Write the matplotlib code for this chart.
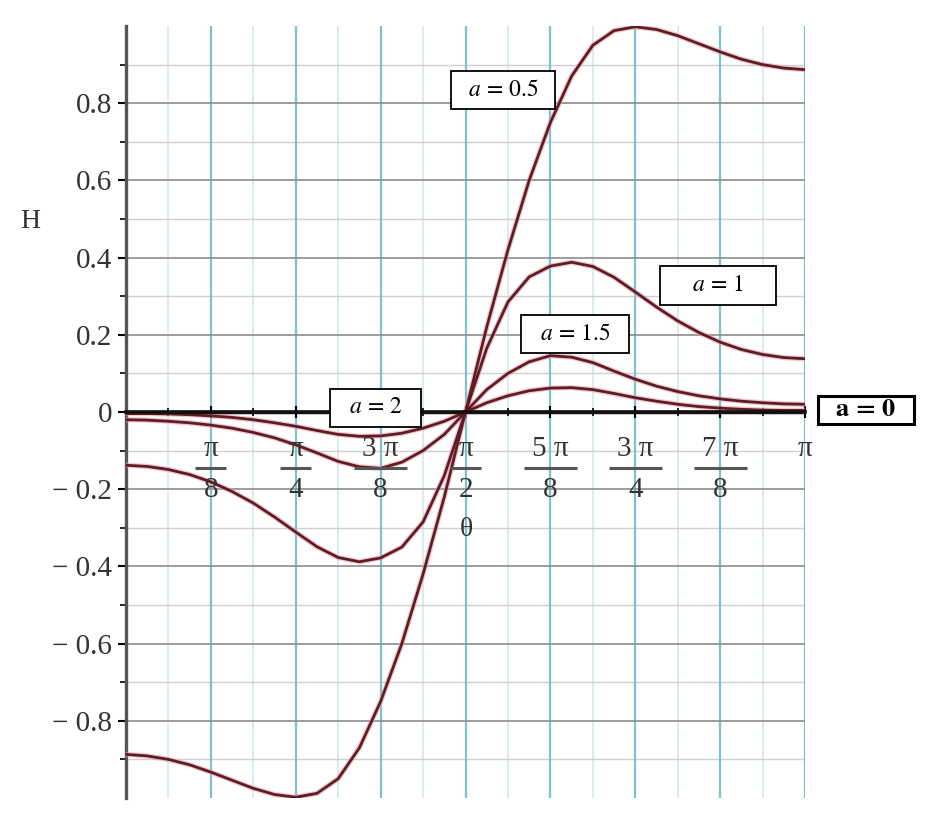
import numpy as np
import matplotlib.pyplot as plt
from matplotlib.patches import Rectangle
from matplotlib.transforms import ScaledTranslation

# theta samples, pi/32 apart from 0 to pi
theta = np.arange(33) * np.pi / 32

h_a05 = [-0.887, -0.891, -0.900, -0.914, -0.933, -0.954, -0.975, -0.991, -0.998,
         -0.988, -0.95, -0.87, -0.75, -0.60, -0.42, -0.22,
         0.0,
         0.22, 0.42, 0.60, 0.75, 0.87, 0.95, 0.988, 0.998,
         0.991, 0.975, 0.954, 0.933, 0.914, 0.900, 0.891, 0.887]
h_a1 = [-0.138, -0.141, -0.149, -0.162, -0.181, -0.206, -0.236, -0.272, -0.311,
        -0.349, -0.377, -0.388, -0.378, -0.35, -0.285, -0.165,
        0.0,
        0.165, 0.285, 0.35, 0.378, 0.388, 0.377, 0.349, 0.311,
        0.272, 0.236, 0.206, 0.181, 0.162, 0.149, 0.141, 0.138]
h_a15 = [-0.020, -0.021, -0.024, -0.028, -0.034, -0.042, -0.053, -0.067, -0.085,
         -0.106, -0.128, -0.142, -0.146, -0.130, -0.100, -0.058,
         0.0,
         0.058, 0.100, 0.130, 0.146, 0.142, 0.128, 0.106, 0.085,
         0.067, 0.053, 0.042, 0.034, 0.028, 0.024, 0.021, 0.020]
h_a2 = [-0.004, -0.004, -0.005, -0.007, -0.010, -0.014, -0.020, -0.028, -0.037,
        -0.048, -0.058, -0.063, -0.062, -0.055, -0.042, -0.024,
        0.0,
        0.024, 0.042, 0.055, 0.062, 0.063, 0.058, 0.048, 0.037,
        0.028, 0.020, 0.014, 0.010, 0.007, 0.005, 0.004, 0.004]
h_a0 = [0.0] * 33

x_ticks = [np.pi * k / 8 for k in range(1, 9)]
x_numer = ['\u03c0', '\u03c0', '3 \u03c0', '\u03c0', '5 \u03c0', '3 \u03c0', '7 \u03c0', '\u03c0']
x_denom = ['8', '4', '8', '2', '8', '4', '8', '']
y_ticks = [-0.8, -0.6, -0.4, -0.2, 0, 0.2, 0.4, 0.6, 0.8]
y_labels = ['\u2212 0.8', '\u2212 0.6', '\u2212 0.4', '\u2212 0.2', '0', '0.2', '0.4', '0.6', '0.8']

# curve labels: text, anchor (theta, H), box size in pixels
labels = [r'$a\,=\,0.5$', r'$a\,=\,1$', r'$a\,=\,1.5$', r'$a\,=\,2$', r'$\mathbf{a\,=\,0}$']
label_x = [1.744, 2.739, 2.077, 1.154, 3.424]
label_y = [0.834, 0.328, 0.202, 0.0104, 0.005]
box_w = [104, 116, 108, 91, 96]
box_h = [38, 39, 38, 38, 28]

plt.rcParams['font.family'] = ['Liberation Serif', 'DejaVu Serif']
plt.rcParams['mathtext.fontset'] = 'stix'

fig = plt.figure(figsize=(9.25, 8.18), dpi=100)
ax = fig.add_axes([126 / 925, 20 / 818, 679 / 925, 772 / 818])

line_col = '#5e1c26'
for h in [h_a05, h_a1, h_a15, h_a2]:
    ax.plot(theta, h, color='#e9a3ab', lw=3.8, alpha=0.6, zorder=3)
    ax.plot(theta, h, color=line_col, lw=2.0, zorder=4)
ax.plot(theta, h_a0, color='#3a0d12', lw=2.5, zorder=4)

ax.set_xlim(0, np.pi)
ax.set_ylim(-1.0, 1.0)

# grid
for k in range(1, 17):
    xv = np.pi * k / 16
    if k % 2 == 0:
        ax.axvline(xv, color='#7dc3cf', lw=1.6, zorder=1)
    else:
        ax.axvline(xv, color='#d3e9ee', lw=1.2, zorder=0.5)
for yv in np.arange(-0.9, 1.0, 0.1):
    if abs(round(yv * 10)) % 2 == 0:
        ax.axhline(yv, color='#8c8c8c', lw=1.2, zorder=1)
    else:
        ax.axhline(yv, color='#d0d0d0', lw=1.0, zorder=0.5)

ax.spines['top'].set_visible(False)
ax.spines['right'].set_visible(False)
ax.spines['bottom'].set_position(('data', 0))
ax.spines['bottom'].set_linewidth(2.6)
ax.spines['bottom'].set_color('#111111')
ax.spines['bottom'].set_zorder(5)
ax.spines['left'].set_linewidth(2.4)
ax.spines['left'].set_color('#555555')

ax.set_xticks(x_ticks)
ax.set_xticklabels([])
ax.set_xticks([np.pi * k / 16 for k in range(1, 16, 2)], minor=True)
ax.tick_params(axis='x', which='major', direction='inout', length=8, width=1.5)
ax.tick_params(axis='x', which='minor', direction='inout', length=6, width=1.2)

# fraction tick labels: numerator, bar, denominator
px = np.pi / 679
for xt, num, den in zip(x_ticks, x_numer, x_denom):
    ax.text(xt, -0.096, num, fontsize=21, color='#333333', ha='center', va='center', zorder=6)
    if den:
        half = (53 if len(num) > 1 else 31) / 2 * px
        ax.plot([xt - half, xt + half], [-0.144, -0.144], color='#555555', lw=2.2,
                solid_capstyle='butt', zorder=6)
        ax.text(xt, -0.202, den, fontsize=21, color='#333333', ha='center', va='center', zorder=6)

ax.set_yticks(y_ticks)
ax.set_yticklabels(y_labels, fontsize=21, color='#333333')
ax.set_yticks([-0.9, -0.7, -0.5, -0.3, -0.1, 0.1, 0.3, 0.5, 0.7, 0.9], minor=True)
ax.tick_params(axis='y', which='major', direction='out', length=6, width=1.5, pad=4)
ax.tick_params(axis='y', which='minor', direction='out', length=4, width=1.2)

fig.text(30 / 925, 1 - 221 / 818, 'H', fontsize=20, color='#333333', ha='center', va='center')
fig.text(466 / 925, 1 - 529 / 818, '\u03b8', fontsize=20, color='#333333', ha='center', va='center')

# boxed curve labels (box size fixed in pixels)
for i, (txt, lx, ly, bw, bh) in enumerate(zip(labels, label_x, label_y, box_w, box_h)):
    last = i == len(labels) - 1
    tr = fig.dpi_scale_trans + ScaledTranslation(lx, ly, ax.transData)
    rect = Rectangle((-bw / 200, -bh / 200), bw / 100, bh / 100, transform=tr,
                     fc='white', ec='black', lw=2.2 if last else 1.3, zorder=6, clip_on=False)
    ax.add_patch(rect)
    ax.text(lx, ly, txt, fontsize=19 if last else 17, ha='center', va='center',
            zorder=7, clip_on=False)

fig.savefig('out.png', dpi=100)
